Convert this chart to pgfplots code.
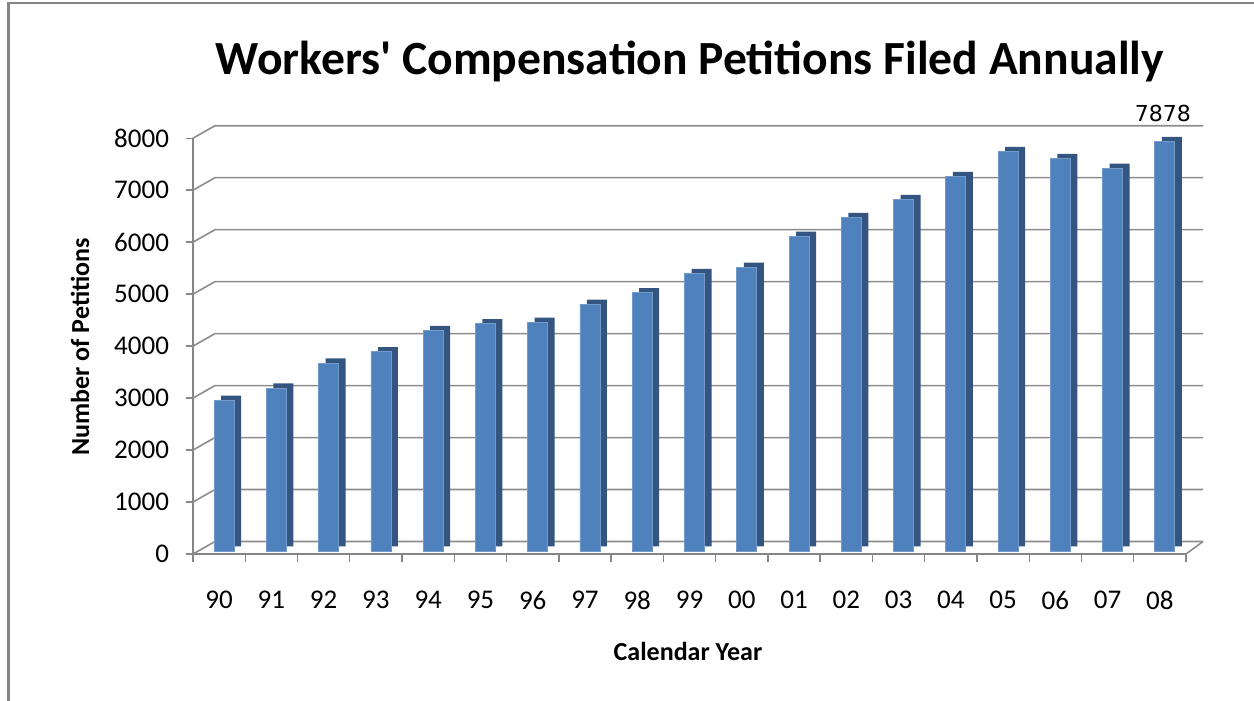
\documentclass[border=0pt]{standalone}
\usepackage{fontspec}
\setmainfont{Carlito}
\newfontfamily\titlefont{Carlito}
\newfontfamily\dv{DejaVu Sans}
\usepackage{pgfplots}
\pgfplotsset{compat=1.18}
\usepackage{pgfplotstable}
\definecolor{barfront}{HTML}{4F81BD}
\definecolor{barside}{HTML}{34557F}
\definecolor{gridc}{HTML}{8C8C8C}
\definecolor{axisc}{HTML}{868686}
\definecolor{framec}{HTML}{858585}
\pgfplotstableread{
x v
0 2900
1 3136
2 3616
3 3834
4 4243
5 4372
6 4403
7 4749
8 4967
9 5338
10 5459
11 6054
12 6419
13 6765
14 7206
15 7686
16 7552
17 7367
18 7878
}\petitions
\begin{document}
\begin{tikzpicture}
\path[use as bounding box] (0pt,0pt) rectangle (627pt,-350.5pt);
\draw[framec, line width=1.5pt] (4.2pt,-351pt) -- (4.2pt,-1.6pt);
\draw[framec, line width=1pt] (3.45pt,-1.6pt) -- (628pt,-1.6pt);
\node[font=\titlefont\bfseries\fontsize{23.8}{28}\selectfont, anchor=base] at (345pt,-37.5pt) {Workers' Compensation Petitions Filed Annually};
\node[font=\bfseries\fontsize{13}{15}\selectfont, rotate=90] at (40pt,-173.5pt) {Number of Petitions};
\node[font=\bfseries\fontsize{13}{15}\selectfont, anchor=base] at (344pt,-330pt) {Calendar Year};
\begin{axis}[
  at={(96.5pt,-277pt)}, anchor=south west,
  scale only axis, width=496.5pt, height=207.9pt,
  xmin=-0.5, xmax=18.5, ymin=0, ymax=8000,
  clip=false,
  axis x line*=bottom, axis y line*=left,
  axis line style={axisc, line width=0.7pt, -},
  every tick/.style={axisc, line width=0.7pt},
  tick align=outside,
  major tick length=3.5pt,
  minor tick length=4pt,
  ytick={0,1000,...,8000},
  /pgf/number format/1000 sep={},
  /pgf/number format/assume math mode=true,
  yticklabel style={font=\fontsize{13.5}{15}\selectfont, anchor=east, xshift=-5pt},
  xtick={0,...,18},
  xticklabels={90,91,92,93,94,95,96,97,98,99,00,01,02,03,04,05,06,07,08},
  major x tick style={draw=none},
  minor xtick={-0.5,0.5,...,18.5},
  xticklabel style={font=\fontsize{13.5}{15}\selectfont, anchor=center, yshift=-19.5pt},
]
\pgfplotsinvokeforeach{0,1000,2000,3000,4000,5000,6000,7000,8000}{
  \draw[gridc, line width=0.8pt] (axis cs:-0.5,#1) -- ([shift={(11pt,6.25pt)}]axis cs:-0.5,#1) -- ([shift={(8.5pt,6.25pt)}]axis cs:18.5,#1);
}
\draw[gridc, line width=0.8pt] (axis cs:18.5,0) -- ([shift={(8.5pt,6.25pt)}]axis cs:18.5,0);
\addplot[ybar, bar width=10pt, bar shift=6pt, fill=barside, draw=none, yshift=3.8pt] table[x=x, y=v] {\petitions};
\addplot[ybar, bar width=10pt, bar shift=2.5pt, fill=barfront, draw=barfront!80!white, line width=0.4pt, yshift=1.5pt] table[x=x, y=v] {\petitions};
\addplot[draw=none, mark=none, nodes near coords, nodes near coords style={font=\dv\fontsize{11}{13}\selectfont, anchor=base, yshift=11.3pt, xshift=1.5pt}] coordinates {(18,7878)};
\end{axis}
\end{tikzpicture}
\end{document}
